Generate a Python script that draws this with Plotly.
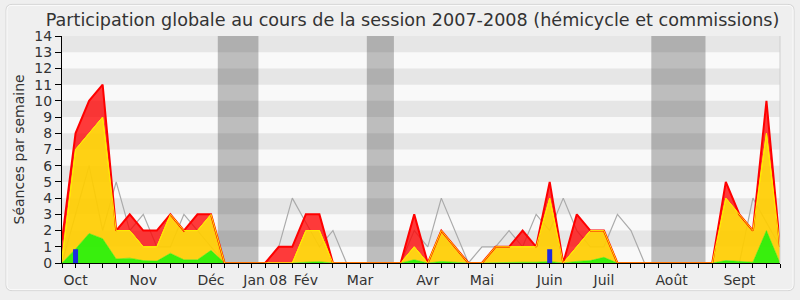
import plotly.graph_objects as go

# ---- data -------------------------------------------------------------
semaines = list(range(54))

mois_pos = [1, 6, 11, 15, 18, 22, 27, 31, 36, 40, 45, 50]
mois_txt = ["Oct", "Nov", "Déc", "Jan 08", "Fév", "Mar", "Avr", "Mai",
            "Juin", "Juil", "Août", "Sept"]

# cumulative levels of the three stacked layers (bottom -> top)
niveau_vert = [0, 0.87, 1.82, 1.5, 0.25, 0.3, 0.15, 0.12, 0.6, 0.2, 0.2, 0.78,
               0, 0, 0, 0, 0, 0, 0.05, 0.08, 0, 0, 0, 0, 0, 0,
               0.2, 0, 0.1, 0.05, 0, 0, 0.03, 0.05, 0.05, 0.05, 0.1, 0,
               0.1, 0.15, 0.35, 0, 0, 0, 0, 0, 0, 0, 0,
               0.15, 0.1, 0.05, 2, 0]
niveau_jaune = [0.25, 7, 8, 9, 2, 2, 1, 1, 3, 2, 2, 3,
                0, 0, 0, 0, 0, 0, 2, 2, 0, 0, 0, 0, 0, 0,
                1, 0, 2, 1, 0, 0, 1, 1, 1, 1, 4, 0,
                1, 2, 2, 0, 0, 0, 0, 0, 0, 0, 0,
                4, 3, 2, 8, 1]
niveau_rouge = [1.4, 8, 10, 11, 2, 3, 2, 2, 3, 2, 3, 3,
                0, 0, 0, 0, 1, 1, 3, 3, 0, 0, 0, 0, 0, 0,
                3, 0, 2, 1, 0, 0, 1, 1, 2, 1, 5, 0,
                3, 2, 2, 0, 0, 0, 0, 0, 0, 0, 0,
                5, 3, 2, 10, 1]
mediane = [0, 3, 6, 2, 5, 2, 3, 1, 1, 3, 2, 1,
           0, 0, 0, 0, 1, 4, 2.5, 1, 2, 0, 0, 0, 0, 0,
           2, 1, 4, 2, 0, 1, 1, 2, 1, 3, 2, 4,
           2, 1, 1, 3, 2, 0, 0, 0, 0, 0, 0,
           0, 0, 4, 2.5, 1]

bleu_semaines = [1, 36]
bleu_valeurs = [0.85, 0.85]

vacances = [(11.5, 14.5), (22.5, 24.5), (43.5, 47.5)]

# ---- figure -----------------------------------------------------------
FONT = "DejaVu Sans"
fig = go.Figure()

fig.add_trace(go.Scatter(x=semaines, y=mediane, mode="lines",
                         line=dict(color="#aaaaaa", width=1.2),
                         hoverinfo="skip", showlegend=False))
fig.add_trace(go.Scatter(x=semaines, y=niveau_vert, mode="lines", fill="tozeroy",
                         fillcolor="rgba(45,238,0,0.95)",
                         line=dict(color="rgba(40,235,0,1)", width=0.5),
                         hoverinfo="skip", showlegend=False))
fig.add_trace(go.Scatter(x=semaines, y=niveau_jaune, mode="lines", fill="tonexty",
                         fillcolor="rgba(255,205,0,0.92)",
                         line=dict(color="#ffff00", width=1),
                         hoverinfo="skip", showlegend=False))
fig.add_trace(go.Scatter(x=semaines, y=niveau_rouge, mode="lines", fill="tonexty",
                         fillcolor="rgba(255,0,0,0.77)",
                         line=dict(color="#ff0000", width=2),
                         hoverinfo="skip", showlegend=False))
fig.add_trace(go.Scatter(x=semaines, y=niveau_jaune, mode="lines",
                         line=dict(color="#ffe800", width=1),
                         hoverinfo="skip", showlegend=False))

bx, by = [], []
for w, v in zip(bleu_semaines, bleu_valeurs):
    bx += [w, w, None]
    by += [0, v, None]
fig.add_trace(go.Scatter(x=bx, y=by, mode="lines",
                         line=dict(color="#1e2be0", width=5),
                         hoverinfo="skip", showlegend=False))

# ---- shapes -----------------------------------------------------------
shapes = []
for k in range(1, 14, 2):
    shapes.append(dict(type="rect", xref="paper", yref="y", x0=0, x1=1, y0=k, y1=k + 1,
                       fillcolor="#e6e6e6", line=dict(width=0), layer="below"))
for a, b in vacances:
    shapes.append(dict(type="rect", xref="x", yref="paper", x0=a, x1=b, y0=0, y1=1,
                       fillcolor="rgba(0,0,0,0.24)", line=dict(width=0), layer="below"))
shapes.append(dict(type="line", xref="paper", yref="paper", x0=1, x1=1, y0=0, y1=1,
                   line=dict(color="#cfcfcf", width=1)))

PL, PR, PT, PB = 62, 780, 36, 266


def px(x):
    return (x - PL) / (PR - PL)


def py(y):
    return (PB - y) / (PB - PT)


def rounded(L, T, R, B, r):
    pts = [("M", L + r, T), ("L", R - r, T), ("Q", R, T, R, T + r), ("L", R, B - r),
           ("Q", R, B, R - r, B), ("L", L + r, B), ("Q", L, B, L, B - r),
           ("L", L, T + r), ("Q", L, T, L + r, T)]
    s = ""
    for p in pts:
        if p[0] == "Q":
            s += f"Q{px(p[1]):.5f},{py(p[2]):.5f} {px(p[3]):.5f},{py(p[4]):.5f} "
        else:
            s += f"{p[0]}{px(p[1]):.5f},{py(p[2]):.5f} "
    return s + "Z"


shapes.append(dict(type="path", xref="paper", yref="paper",
                   path=rounded(6, 4, 794, 294, 6),
                   line=dict(color="#d4d4d4", width=1)))
shapes.append(dict(type="path", xref="paper", yref="paper",
                   path=rounded(7, 5, 793, 293, 5),
                   line=dict(color="#fbfbfb", width=1)))

ticktext = [mois_txt[mois_pos.index(w)] if w in mois_pos else "" for w in semaines]

fig.update_layout(
    width=800, height=300,
    margin=dict(l=PL, r=800 - PR, t=PT, b=300 - PB, pad=0),
    paper_bgcolor="#efefef", plot_bgcolor="#f9f9f9",
    font=dict(family=FONT, size=14, color="#333333"),
    showlegend=False,
    title=dict(text="Participation globale au cours de la session 2007-2008 (hémicycle et commissions)",
               x=412.5 / 800, xanchor="center", xref="container",
               y=1 - 19.5 / 300, yanchor="middle", yref="container",
               font=dict(family=FONT, size=17.6, color="#333333")),
    xaxis=dict(range=[0, 53], tickmode="array", tickvals=semaines, ticktext=ticktext,
               ticks="outside", ticklen=4, tickcolor="#000000", tickwidth=1,
               showline=True, linecolor="#000000", linewidth=1,
               showgrid=False, zeroline=False, fixedrange=True,
               tickfont=dict(family=FONT, size=14, color="#333333")),
    xaxis2=dict(range=[0, 53], overlaying="x", side="top", anchor="y",
                tickmode="array", tickvals=semaines, showticklabels=False,
                ticks="outside", ticklen=2, tickcolor="#000000",
                showline=False, showgrid=False, zeroline=False),
    yaxis=dict(range=[0, 14], tickmode="linear", tick0=0, dtick=1,
               ticks="outside", ticklen=6, tickcolor="#000000",
               showline=True, linecolor="#000000", linewidth=1,
               showgrid=False, zeroline=False, fixedrange=True,
               tickfont=dict(family=FONT, size=14, color="#333333")),
    shapes=shapes,
    annotations=[dict(text="Séances par semaine", textangle=-90, showarrow=False,
                      xref="paper", yref="paper", x=px(18), y=0.5,
                      xanchor="center", yanchor="middle",
                      font=dict(family=FONT, size=14, color="#333333"))],
)

fig.write_html("out.html")
